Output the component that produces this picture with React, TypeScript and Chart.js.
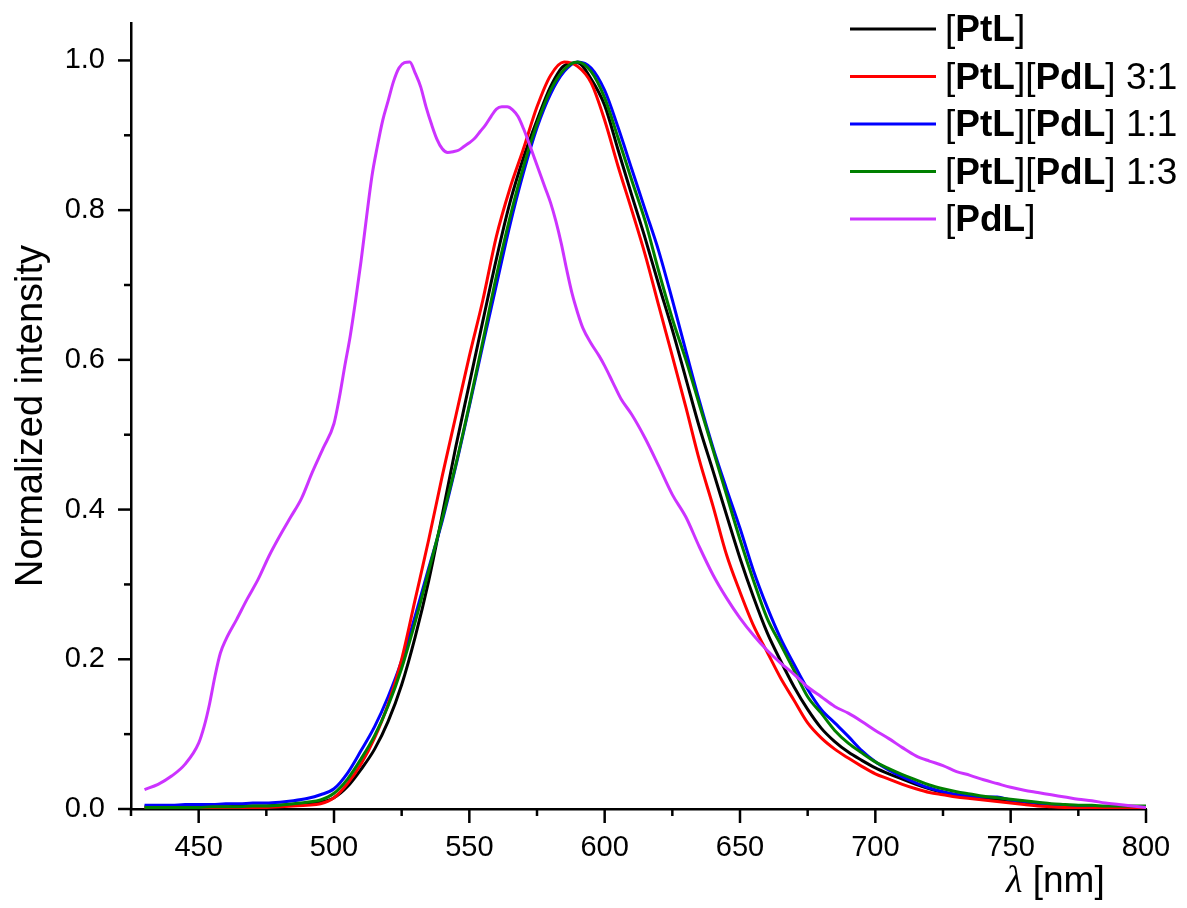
import React, { useEffect, useRef } from 'react';
import { Chart, registerables } from 'chart.js';

Chart.register(...registerables);

// ---------- data ----------
const wavelengths = [
  430, 435, 440, 445, 450, 455, 460, 465, 470, 475, 480, 485, 490, 495, 500,
  505, 510, 515, 520, 525, 530, 535, 540, 545, 550, 555, 560, 565, 570, 575,
  580, 585, 590, 595, 600, 605, 610, 615, 620, 625, 630, 635, 640, 645, 650,
  655, 660, 665, 670, 675, 680, 685, 690, 695, 700, 705, 710, 715, 720, 725,
  730, 735, 740, 745, 750, 755, 760, 765, 770, 775, 780, 785, 790, 795, 800,
];

const ptl = [
  0.003, 0.003, 0.003, 0.003, 0.003, 0.003, 0.003, 0.004, 0.004, 0.004, 0.005, 0.006, 0.007, 0.009, 0.015,
  0.030, 0.053, 0.080, 0.117, 0.166, 0.230, 0.305, 0.393, 0.484, 0.568, 0.652, 0.735, 0.810, 0.870, 0.920,
  0.965, 0.993, 0.997, 0.975, 0.940, 0.880, 0.820, 0.762, 0.700, 0.640, 0.575, 0.510, 0.452, 0.393, 0.335,
  0.283, 0.236, 0.198, 0.163, 0.133, 0.108, 0.090, 0.076, 0.065, 0.055, 0.047, 0.040, 0.033, 0.027, 0.022,
  0.019, 0.016, 0.014, 0.012, 0.010, 0.008, 0.006, 0.005, 0.004, 0.003, 0.003, 0.002, 0.002, 0.002, 0.002,
];

const mix31 = [
  0.001, 0.001, 0.001, 0.001, 0.001, 0.001, 0.002, 0.002, 0.002, 0.002, 0.003, 0.004, 0.005, 0.007, 0.015,
  0.034, 0.060, 0.095, 0.140, 0.200, 0.280, 0.360, 0.445, 0.525, 0.605, 0.680, 0.765, 0.829, 0.882, 0.938,
  0.980, 0.998, 0.992, 0.970, 0.920, 0.858, 0.800, 0.740, 0.672, 0.605, 0.537, 0.466, 0.405, 0.340, 0.290,
  0.245, 0.210, 0.175, 0.145, 0.115, 0.095, 0.080, 0.068, 0.057, 0.047, 0.040, 0.033, 0.027, 0.022, 0.019,
  0.016, 0.014, 0.012, 0.010, 0.008, 0.006, 0.004, 0.003, 0.002, 0.001, 0.001, 0.001, 0.001, 0.001, 0.001,
];

const mix11 = [
  0.005, 0.005, 0.005, 0.006, 0.006, 0.006, 0.007, 0.007, 0.008, 0.008, 0.009, 0.011, 0.014, 0.019, 0.027,
  0.048, 0.078, 0.110, 0.150, 0.198, 0.258, 0.322, 0.385, 0.458, 0.538, 0.620, 0.700, 0.780, 0.850, 0.910,
  0.955, 0.985, 0.998, 0.990, 0.960, 0.910, 0.855, 0.800, 0.745, 0.680, 0.612, 0.545, 0.483, 0.428, 0.375,
  0.318, 0.270, 0.228, 0.193, 0.160, 0.133, 0.115, 0.097, 0.078, 0.063, 0.052, 0.043, 0.035, 0.028, 0.023,
  0.019, 0.017, 0.016, 0.016, 0.012, 0.010, 0.008, 0.006, 0.005, 0.004, 0.003, 0.002, 0.002, 0.002, 0.002,
];

const mix13 = [
  0.002, 0.002, 0.002, 0.002, 0.002, 0.003, 0.003, 0.003, 0.004, 0.004, 0.005, 0.007, 0.009, 0.012, 0.021,
  0.040, 0.067, 0.098, 0.138, 0.188, 0.250, 0.318, 0.388, 0.460, 0.540, 0.625, 0.712, 0.790, 0.858, 0.915,
  0.960, 0.988, 0.998, 0.985, 0.950, 0.896, 0.840, 0.785, 0.718, 0.655, 0.600, 0.540, 0.480, 0.420, 0.360,
  0.305, 0.255, 0.220, 0.185, 0.150, 0.128, 0.105, 0.088, 0.075, 0.063, 0.054, 0.046, 0.039, 0.032, 0.027,
  0.023, 0.020, 0.017, 0.015, 0.013, 0.011, 0.009, 0.007, 0.006, 0.005, 0.005, 0.004, 0.004, 0.004, 0.004,
];

const pdlWavelengths = [
  430, 435, 440, 445, 450, 452, 454, 456, 458, 460, 464, 468, 472, 476, 480, 484, 488, 492, 496, 500,
  502, 504, 506, 508, 510, 512, 514, 516, 518, 520, 522, 524, 526, 528, 530, 532, 534, 536, 538, 540,
  542, 544, 546, 548, 550, 552, 554, 556, 558, 560, 562, 564, 566, 568, 570, 572, 574, 576, 578, 580,
  582, 584, 586, 588, 590, 592, 595, 598, 600, 603, 606, 610, 615, 620, 625, 630, 635, 640, 645, 650,
  655, 660, 665, 670, 675, 680, 685, 690, 695, 700, 705, 710, 715, 720, 725, 730, 735, 740, 745, 750,
  755, 760, 765, 770, 775, 780, 785, 790, 795, 800,
];

const pdl = [
  0.026, 0.033, 0.044, 0.060, 0.088, 0.110, 0.140, 0.177, 0.208, 0.226, 0.253, 0.281, 0.307, 0.338, 0.365, 0.390, 0.415, 0.450, 0.482, 0.515,
  0.550, 0.592, 0.632, 0.680, 0.732, 0.790, 0.845, 0.885, 0.920, 0.946, 0.972, 0.990, 0.997, 0.998, 0.983, 0.965, 0.938, 0.915, 0.895, 0.882,
  0.877, 0.878, 0.880, 0.885, 0.890, 0.896, 0.905, 0.914, 0.925, 0.935, 0.938, 0.938, 0.934, 0.925, 0.909, 0.890, 0.870, 0.850, 0.830, 0.810,
  0.785, 0.755, 0.720, 0.688, 0.663, 0.642, 0.622, 0.605, 0.592, 0.570, 0.548, 0.527, 0.495, 0.458, 0.420, 0.390, 0.350, 0.313, 0.282, 0.255,
  0.232, 0.212, 0.195, 0.180, 0.163, 0.150, 0.137, 0.128, 0.117, 0.105, 0.094, 0.082, 0.071, 0.064, 0.058, 0.050, 0.045, 0.039, 0.034, 0.029,
  0.025, 0.022, 0.019, 0.016, 0.013, 0.011, 0.008, 0.006, 0.004, 0.002,
];

const seriesLabels = [
  '[**PtL**]',
  '[**PtL**][**PdL**] 3:1',
  '[**PtL**][**PdL**] 1:1',
  '[**PtL**][**PdL**] 1:3',
  '[**PdL**]',
];
const seriesColors = ['#000000', '#ff0000', '#0000ff', '#008000', '#cc33ff'];

const xMajorTicks = [450, 500, 550, 600, 650, 700, 750, 800];
const xMinorTicks = [425, 475, 525, 575, 625, 675, 725, 775];
const yMajorTicks = [0, 0.2, 0.4, 0.6, 0.8, 1.0];
const yMinorTicks = [0.1, 0.3, 0.5, 0.7, 0.9];

const yAxisTitle = 'Normalized intensity';
const xAxisTitleSymbol = 'λ';
const xAxisTitleUnit = ' [nm]';

// ---------- helpers ----------
const SANS = '"Liberation Sans", Arial, Helvetica, sans-serif';
const SERIF = '"Liberation Serif", "Times New Roman", serif';

function toPoints(xs: number[], ys: number[]) {
  return xs.map((x, i) => ({ x, y: ys[i] }));
}

function segments(label: string) {
  return label.split('**').map((t, i) => ({ text: t, bold: i % 2 === 1 })).filter((s) => s.text.length > 0);
}

const decorPlugin = {
  id: 'decor',
  afterDraw(chart: any) {
    const { ctx, chartArea, scales } = chart;
    const xs = scales.x;
    const ys = scales.y;
    ctx.save();
    ctx.strokeStyle = '#000';
    ctx.lineWidth = 2.5;
    ctx.lineCap = 'butt';
    const drawX = (v: number, len: number) => {
      const px = xs.getPixelForValue(v);
      ctx.beginPath();
      ctx.moveTo(px, chartArea.bottom);
      ctx.lineTo(px, chartArea.bottom + len);
      ctx.stroke();
    };
    xMajorTicks.forEach((v) => drawX(v, 14));
    xMinorTicks.forEach((v) => drawX(v, 7));
    const drawY = (v: number, len: number) => {
      const py = ys.getPixelForValue(v);
      ctx.beginPath();
      ctx.moveTo(chartArea.left, py);
      ctx.lineTo(chartArea.left - len, py);
      ctx.stroke();
    };
    yMajorTicks.forEach((v) => drawY(v, 13));
    yMinorTicks.forEach((v) => drawY(v, 7));

    // x axis title
    ctx.fillStyle = '#000';
    ctx.textBaseline = 'alphabetic';
    ctx.textAlign = 'left';
    let tx = chartArea.right - 140;
    const ty = chartArea.bottom + 83;
    ctx.font = `italic 38px ${SERIF}`;
    ctx.fillText(xAxisTitleSymbol, tx, ty);
    tx += ctx.measureText(xAxisTitleSymbol).width;
    ctx.font = `37px ${SANS}`;
    ctx.fillText(xAxisTitleUnit, tx, ty);

    // legend
    const lx0 = chartArea.right - 296;
    seriesLabels.forEach((label, i) => {
      const y = 29 + i * 47.5;
      ctx.strokeStyle = seriesColors[i];
      ctx.lineWidth = 3;
      ctx.beginPath();
      ctx.moveTo(lx0, y);
      ctx.lineTo(lx0 + 86, y);
      ctx.stroke();
      let x = lx0 + 95;
      segments(label).forEach((s) => {
        ctx.font = `${s.bold ? 'bold ' : ''}37px ${SANS}`;
        ctx.fillStyle = '#000';
        ctx.fillText(s.text, x, y + 12);
        x += ctx.measureText(s.text).width;
      });
    });
    ctx.restore();
  },
};

export default function App() {
  const canvasRef = useRef<HTMLCanvasElement | null>(null);

  useEffect(() => {
    document.body.style.margin = '0';
    const canvas = canvasRef.current;
    if (!canvas) return;
    Chart.defaults.font.family = SANS;
    Chart.defaults.color = '#000';

    const xSets = [wavelengths, wavelengths, wavelengths, wavelengths, pdlWavelengths];
    const ySets = [ptl, mix31, mix11, mix13, pdl];
    const orders = [5, 3, 4, 2, 1];

    const chart = new Chart(canvas, {
      type: 'line',
      data: {
        datasets: seriesLabels.map((label, i) => ({
          label: label.split('**').join(''),
          data: toPoints(xSets[i], ySets[i]),
          borderColor: seriesColors[i],
          backgroundColor: seriesColors[i],
          borderWidth: 3,
          pointRadius: 0,
          fill: false,
          cubicInterpolationMode: 'monotone',
          order: orders[i],
        })),
      },
      options: {
        responsive: false,
        animation: false,
        devicePixelRatio: 1,
        layout: { padding: { left: 0, right: 41, top: 23, bottom: 0 } },
        plugins: {
          legend: { display: false },
          tooltip: { enabled: false },
        },
        scales: {
          x: {
            type: 'linear',
            min: 425,
            max: 800,
            afterBuildTicks: (s: any) => {
              s.ticks = xMajorTicks.map((v) => ({ value: v }));
            },
            afterFit: (s: any) => {
              s.height = 99;
              s.paddingLeft = 0;
              s.paddingRight = 0;
              s.paddingTop = 0;
              s.paddingBottom = 0;
            },
            grid: { display: false, drawTicks: false },
            border: { display: true, color: '#000', width: 2.5 },
            ticks: {
              color: '#000',
              font: { size: 29, family: SANS },
              padding: 22,
              maxRotation: 0,
              autoSkip: false,
              callback: (v: any) => String(v),
            },
          },
          y: {
            type: 'linear',
            min: 0,
            max: 1.05,
            afterBuildTicks: (s: any) => {
              s.ticks = yMajorTicks.map((v) => ({ value: v }));
            },
            afterFit: (s: any) => {
              s.width = 131;
              s.paddingLeft = 0;
              s.paddingRight = 0;
              s.paddingTop = 0;
              s.paddingBottom = 0;
            },
            grid: { display: false, drawTicks: false },
            border: { display: true, color: '#000', width: 2.5 },
            ticks: {
              color: '#000',
              font: { size: 29, family: SANS },
              padding: 26,
              autoSkip: false,
              callback: (v: any) => Number(v).toFixed(1),
            },
            title: {
              display: true,
              text: yAxisTitle,
              color: '#000',
              font: { size: 38, family: SANS },
              padding: { top: 9, bottom: 0 },
            },
          },
        },
      },
      plugins: [decorPlugin],
    } as any);

    return () => chart.destroy();
  }, []);

  return (
    <div style={{ width: 1187, height: 908 }}>
      <canvas ref={canvasRef} width={1187} height={908} style={{ display: 'block', width: 1187, height: 908 }} />
    </div>
  );
}
